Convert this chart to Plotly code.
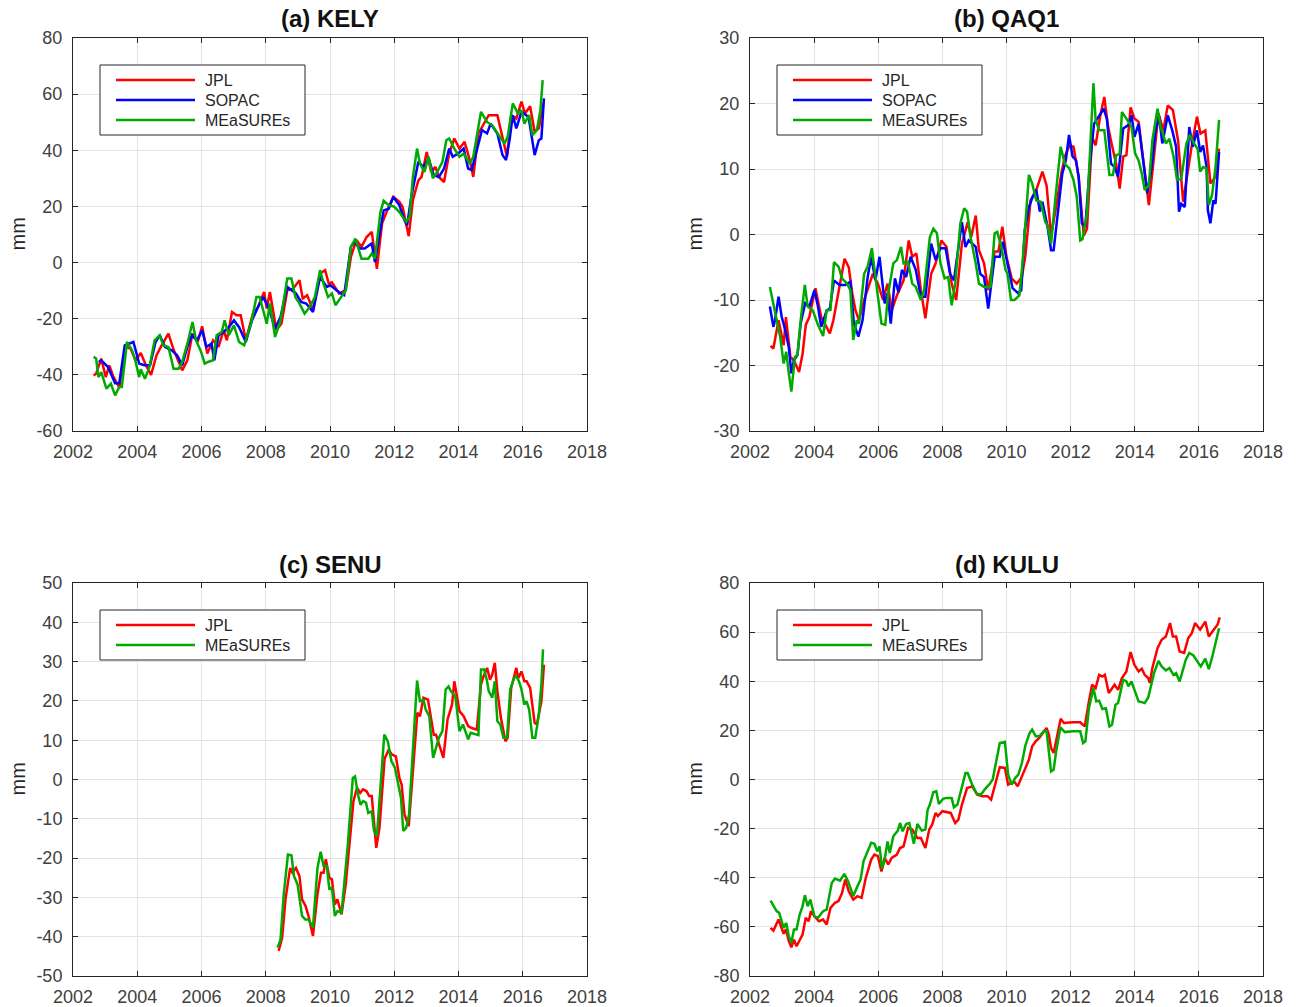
import plotly.graph_objects as go

# ---------------- data (decimal year, mm) ----------------
KELY_JPL = [(2002.64,-40.2),(2002.72,-39.6),(2002.88,-34.2),(2003.02,-40.8),(2003.13,-36.6),(2003.25,-40.5),(2003.44,-44.5),(2003.63,-30),(2003.79,-30.6),(2003.95,-34.8),(2004.11,-32.2),(2004.27,-36.6),(2004.43,-40),(2004.60,-33),(2004.76,-29.5),(2004.97,-25.3),(2005.13,-31),(2005.40,-38.4),(2005.56,-34.8),(2005.72,-25.3),(2005.88,-28.3),(2006.02,-22.7),(2006.18,-32.4),(2006.36,-27.7),(2006.53,-30),(2006.69,-24.1),(2006.79,-27.7),(2006.95,-17.6),(2007.09,-18.8),(2007.22,-18.8),(2007.38,-27.7),(2007.60,-18.2),(2007.76,-15.8),(2007.95,-10.5),(2008.03,-16.4),(2008.13,-10.5),(2008.33,-24.1),(2008.49,-21.7),(2008.67,-9.9),(2008.85,-9.3),(2009.05,-6.3),(2009.15,-12.8),(2009.29,-11.6),(2009.47,-17),(2009.69,-3.9),(2009.85,-2.7),(2009.96,-7.5),(2010.06,-7),(2010.28,-11),(2010.49,-9.9),(2010.65,2),(2010.82,8),(2010.98,5.6),(2011.14,9.1),(2011.30,10.9),(2011.46,-2.2),(2011.62,13.9),(2011.78,18.6),(2011.97,23.4),(2012.16,21.6),(2012.26,19.8),(2012.45,9.4),(2012.58,22.2),(2012.75,29.3),(2012.85,30.5),(2013.01,39.4),(2013.15,32.3),(2013.28,34.1),(2013.39,30.5),(2013.55,28.7),(2013.71,38.8),(2013.87,44.2),(2014.03,40.6),(2014.19,43),(2014.35,36.5),(2014.46,30.5),(2014.62,46),(2014.78,49.5),(2014.94,52.5),(2015.21,52.5),(2015.37,44.8),(2015.51,37.7),(2015.64,52.5),(2015.80,51.3),(2015.96,57.3),(2016.07,53.1),(2016.23,55.7),(2016.37,46.6),(2016.50,47.8),(2016.64,56.7)]

KELY_SOPAC = [(2002.80,-35.4),(2002.88,-34.8),(2003.09,-37.2),(2003.31,-43),(2003.44,-43),(2003.61,-29.5),(2003.88,-28.3),(2004.06,-36),(2004.22,-36.6),(2004.40,-36.6),(2004.57,-28.3),(2004.70,-25.9),(2004.86,-30),(2005.08,-31.3),(2005.24,-33),(2005.40,-36.6),(2005.56,-30),(2005.70,-25.9),(2005.86,-27.7),(2006.02,-24.1),(2006.15,-30),(2006.31,-28.9),(2006.40,-34.8),(2006.53,-25.9),(2006.69,-24.7),(2006.85,-23),(2007.01,-20.6),(2007.17,-23),(2007.38,-28.3),(2007.57,-20.6),(2007.76,-15.8),(2007.92,-12.3),(2008.08,-15.8),(2008.29,-23.5),(2008.46,-19.4),(2008.67,-8.7),(2008.94,-11),(2009.10,-14),(2009.26,-14.6),(2009.47,-17.6),(2009.69,-5.1),(2009.90,-8.7),(2010.01,-8.1),(2010.33,-11),(2010.44,-11.6),(2010.65,5.6),(2010.76,7.4),(2010.92,5),(2011.08,5),(2011.30,6.8),(2011.40,0.2),(2011.67,18.6),(2011.83,19.2),(2011.97,23.4),(2012.16,20.4),(2012.32,15),(2012.40,13.3),(2012.53,23.4),(2012.75,35.9),(2012.91,34.1),(2013.07,37.1),(2013.23,31.1),(2013.39,30.5),(2013.55,33.5),(2013.71,40.6),(2013.82,37.7),(2013.98,38.8),(2014.16,40.6),(2014.30,33.5),(2014.41,33),(2014.57,40),(2014.73,47.2),(2014.89,46),(2015.00,49.5),(2015.21,46),(2015.37,38.3),(2015.48,36.5),(2015.59,43.6),(2015.69,52.5),(2015.80,47.8),(2015.96,53.7),(2016.18,51.9),(2016.37,38.3),(2016.50,43.6),(2016.58,44.2),(2016.66,58.5)]

KELY_MEAS = [(2002.64,-33.6),(2002.72,-34.2),(2002.79,-40.8),(2002.88,-39),(2003.04,-44.9),(2003.18,-43.1),(2003.31,-47.3),(2003.44,-44.3),(2003.52,-44.3),(2003.68,-28.3),(2003.84,-31.3),(2003.95,-35.4),(2004.06,-40.8),(2004.11,-38),(2004.24,-41.4),(2004.38,-37.2),(2004.54,-27.7),(2004.70,-25.9),(2004.81,-29.5),(2004.97,-30.1),(2005.13,-37.8),(2005.29,-37.8),(2005.40,-35.4),(2005.56,-28.9),(2005.72,-21.2),(2005.83,-27.7),(2005.99,-31.9),(2006.10,-36),(2006.20,-35.4),(2006.36,-34.8),(2006.47,-25.9),(2006.63,-24.7),(2006.72,-20.6),(2006.85,-25.9),(2007.01,-22.4),(2007.17,-28.3),(2007.33,-29.5),(2007.54,-21.8),(2007.71,-12.3),(2007.81,-12.3),(2007.92,-17),(2008.03,-21.8),(2008.13,-14.6),(2008.29,-26.5),(2008.46,-20.6),(2008.67,-5.7),(2008.80,-5.7),(2008.92,-12.3),(2009.05,-14.6),(2009.21,-18.2),(2009.37,-15.8),(2009.53,-12.3),(2009.69,-2.7),(2009.80,-7.5),(2009.94,-12.3),(2010.06,-11),(2010.17,-15.2),(2010.33,-12.3),(2010.49,-9.9),(2010.65,5.6),(2010.79,8.5),(2010.98,1.4),(2011.19,1.4),(2011.30,3.2),(2011.40,1.4),(2011.57,18),(2011.67,22),(2011.83,20.4),(2011.99,20),(2012.16,18),(2012.37,14.5),(2012.48,16.3),(2012.58,30.5),(2012.71,40.6),(2012.80,35.3),(2012.94,32.3),(2013.07,37.7),(2013.20,30),(2013.34,32.3),(2013.50,35.9),(2013.62,43.6),(2013.71,44.2),(2013.87,40.6),(2014.03,37.7),(2014.16,38.8),(2014.35,35.3),(2014.46,37.7),(2014.70,53.7),(2014.89,50.1),(2015.05,48.9),(2015.21,46),(2015.43,42.4),(2015.53,44.8),(2015.69,56.7),(2015.85,53.1),(2015.96,54.3),(2016.05,49.5),(2016.20,52.5),(2016.30,45.4),(2016.44,47.2),(2016.55,54.3),(2016.62,65)]

QAQ1_JPL = [(2002.64,-17.0),(2002.73,-17.4),(2002.89,-13.1),(2003.05,-16.9),(2003.12,-12.6),(2003.26,-18.7),(2003.37,-19.2),(2003.53,-21),(2003.64,-18.2),(2003.74,-13.8),(2003.85,-12.6),(2004.04,-8.2),(2004.22,-12.6),(2004.49,-15.1),(2004.60,-13.1),(2004.76,-9),(2004.95,-3.7),(2005.08,-5),(2005.19,-9),(2005.29,-11.6),(2005.40,-13.1),(2005.56,-10),(2005.72,-7.5),(2005.83,-6),(2005.99,-7.5),(2006.15,-10),(2006.29,-7.5),(2006.42,-11.6),(2006.58,-9.3),(2006.79,-7),(2006.95,-0.9),(2007.06,-3.4),(2007.19,-2.9),(2007.33,-8.5),(2007.47,-12.8),(2007.65,-6),(2007.79,-4.4),(2007.97,-0.9),(2008.13,-1.9),(2008.29,-7.5),(2008.43,-10),(2008.61,-1.4),(2008.79,1.9),(2008.90,-0.4),(2009.04,2.9),(2009.14,-2.4),(2009.30,-4.4),(2009.43,-8.5),(2009.63,-2.6),(2009.75,-2.6),(2009.87,1.2),(2010.00,-3.4),(2010.16,-6.7),(2010.32,-7.5),(2010.48,-6.5),(2010.59,-3.2),(2010.75,5.2),(2010.93,6.8),(2011.12,9.6),(2011.25,7.5),(2011.39,-0.1),(2011.53,3.7),(2011.71,9.3),(2011.82,11.9),(2011.96,13.6),(2012.09,13.4),(2012.25,8.8),(2012.41,-0.2),(2012.51,0.9),(2012.67,14.9),(2012.78,13.6),(2012.92,18),(2013.05,21),(2013.16,16.7),(2013.29,13.6),(2013.42,10.8),(2013.53,7),(2013.64,11.9),(2013.74,12.1),(2013.87,19.4),(2013.99,17.7),(2014.12,17.2),(2014.28,10.8),(2014.44,4.5),(2014.60,11.9),(2014.74,18.5),(2014.89,15.9),(2015.03,19.7),(2015.19,19),(2015.35,14.4),(2015.51,5),(2015.61,8.3),(2015.78,13.6),(2015.94,18),(2016.05,15.4),(2016.20,15.9),(2016.36,7.8),(2016.52,8.8),(2016.63,13.1)]

QAQ1_SOPAC = [(2002.62,-11),(2002.73,-14.1),(2002.78,-13.1),(2002.89,-9.5),(2002.99,-12.6),(2003.10,-14.6),(2003.21,-17.2),(2003.29,-21.2),(2003.37,-19.2),(2003.48,-18.4),(2003.58,-13.6),(2003.72,-10.5),(2003.85,-11),(2004.01,-8.5),(2004.12,-11),(2004.22,-14.1),(2004.39,-11.6),(2004.49,-11.3),(2004.62,-7),(2004.79,-7.7),(2004.97,-7.7),(2005.13,-7.2),(2005.24,-13.6),(2005.38,-15.6),(2005.51,-13.1),(2005.67,-6.5),(2005.78,-3.4),(2005.91,-7),(2006.04,-3.4),(2006.20,-10.5),(2006.29,-9),(2006.39,-13.6),(2006.52,-6.7),(2006.63,-8.8),(2006.74,-5.4),(2006.87,-6.5),(2007.01,-3.4),(2007.17,-5.4),(2007.33,-9.5),(2007.47,-9.5),(2007.65,-1.4),(2007.79,-3.9),(2007.94,-2.1),(2008.10,-2.1),(2008.24,-6),(2008.36,-7),(2008.61,1.9),(2008.72,-1.9),(2008.82,-0.9),(2009.04,-1.9),(2009.18,-6),(2009.30,-6.5),(2009.43,-11.3),(2009.63,-3.4),(2009.79,-3.4),(2009.89,-1.1),(2010.03,-4.4),(2010.19,-8.2),(2010.37,-9),(2010.46,-8.5),(2010.57,0.7),(2010.70,4.2),(2010.82,5.8),(2010.93,6.8),(2011.04,3.5),(2011.12,5),(2011.28,1.2),(2011.39,-2.4),(2011.47,-2.4),(2011.60,3.7),(2011.74,9.3),(2011.85,11.3),(2011.95,15.2),(2012.06,11.9),(2012.17,11.3),(2012.25,8.8),(2012.35,1.7),(2012.46,1.2),(2012.60,10.8),(2012.73,16.9),(2012.89,18.2),(2013.03,19.2),(2013.13,17.7),(2013.26,10.8),(2013.37,10.3),(2013.48,8.8),(2013.64,16.2),(2013.80,16.7),(2013.90,18.2),(2013.99,14.9),(2014.12,16.9),(2014.28,10.8),(2014.39,6.3),(2014.52,10),(2014.65,15.9),(2014.76,18),(2014.86,13.9),(2015.03,18.2),(2015.17,15.9),(2015.29,13.4),(2015.38,3.5),(2015.45,4.7),(2015.56,4.2),(2015.70,16.4),(2015.81,13.4),(2015.94,15.9),(2016.04,12.6),(2016.13,13.6),(2016.24,10.3),(2016.28,3.7),(2016.36,1.7),(2016.45,5.2),(2016.52,4.7),(2016.63,12.6)]

QAQ1_MEAS = [(2002.62,-8),(2002.73,-10.5),(2002.83,-12.6),(2002.94,-15.6),(2003.05,-19.7),(2003.13,-17.9),(2003.21,-21.2),(2003.29,-24),(2003.40,-18.7),(2003.48,-18.4),(2003.58,-13.1),(2003.71,-7.7),(2003.80,-11),(2003.96,-11.6),(2004.12,-13.8),(2004.28,-15.5),(2004.39,-11.6),(2004.51,-11.5),(2004.62,-4.2),(2004.76,-4.9),(2004.87,-6.7),(2005.03,-7.5),(2005.13,-8.5),(2005.22,-16.1),(2005.33,-13.1),(2005.40,-13.6),(2005.56,-6),(2005.67,-4.9),(2005.80,-2.1),(2005.94,-8),(2005.99,-9.5),(2006.10,-13.6),(2006.22,-13.8),(2006.31,-9),(2006.47,-4.4),(2006.58,-3.9),(2006.71,-1.9),(2006.79,-4.4),(2006.93,-4.2),(2007.06,-7.5),(2007.17,-8),(2007.33,-10),(2007.43,-8.5),(2007.61,-0.4),(2007.72,0.9),(2007.83,0.2),(2007.94,-4.4),(2008.07,-6.7),(2008.18,-6.5),(2008.29,-10.8),(2008.40,-7.5),(2008.56,1.7),(2008.68,4),(2008.77,3.5),(2008.88,-0.4),(2009.04,-4.4),(2009.14,-7.5),(2009.30,-8),(2009.41,-8),(2009.50,-8),(2009.63,0.2),(2009.71,0.4),(2009.84,-1.9),(2009.97,-5.4),(2010.03,-6),(2010.14,-10),(2010.25,-10),(2010.40,-9.3),(2010.50,-4.4),(2010.59,2.4),(2010.70,9.1),(2010.80,7.8),(2010.93,5.2),(2011.07,5),(2011.21,1.9),(2011.28,1.4),(2011.39,-1.4),(2011.53,5.8),(2011.69,13.4),(2011.82,10.8),(2011.96,10.1),(2012.09,8.3),(2012.19,5.8),(2012.30,-0.9),(2012.37,-0.7),(2012.51,3.2),(2012.62,14.4),(2012.71,23.1),(2012.78,17.5),(2012.89,15.9),(2013.05,15.9),(2013.21,9.1),(2013.32,9.1),(2013.42,12.1),(2013.53,12.3),(2013.60,18.7),(2013.74,17.7),(2013.90,16.4),(2014.01,12.4),(2014.12,11.3),(2014.22,9.3),(2014.31,6.8),(2014.44,7.5),(2014.55,14.4),(2014.71,19.2),(2014.81,16.4),(2014.97,13.9),(2015.08,14.6),(2015.21,11.9),(2015.32,8.3),(2015.45,8.5),(2015.61,13.9),(2015.72,15.2),(2015.85,13.9),(2015.96,13.1),(2016.04,9.6),(2016.13,10.3),(2016.24,10.1),(2016.31,4.5),(2016.41,6),(2016.52,10.3),(2016.63,17.5)]

SENU_JPL = [(2008.40,-43.6),(2008.51,-40.3),(2008.62,-30.1),(2008.76,-22.5),(2008.83,-23.7),(2008.94,-22.5),(2009.05,-24.6),(2009.13,-30.5),(2009.24,-32.2),(2009.33,-34.7),(2009.47,-39.8),(2009.61,-29.2),(2009.72,-23.7),(2009.80,-23.7),(2009.87,-20.3),(2009.98,-25),(2010.06,-25.4),(2010.15,-31.8),(2010.23,-30.5),(2010.36,-34.3),(2010.49,-26.7),(2010.60,-17.4),(2010.73,-5.5),(2010.84,-2.1),(2010.94,-3.4),(2011.03,-2.5),(2011.14,-3),(2011.22,-4.2),(2011.30,-4.2),(2011.44,-17.4),(2011.54,-12.3),(2011.70,5.3),(2011.83,7.6),(2011.92,6.4),(2012.05,5.9),(2012.16,0.4),(2012.23,-1.3),(2012.32,-8.9),(2012.45,-11.9),(2012.58,2),(2012.72,17),(2012.80,16.1),(2012.91,20.8),(2013.05,20.3),(2013.15,15.3),(2013.23,11.4),(2013.30,11.4),(2013.39,8.9),(2013.53,5.5),(2013.66,15.3),(2013.80,19.1),(2013.87,25),(2013.95,21.2),(2014.03,17.4),(2014.16,16.1),(2014.30,13.6),(2014.41,13.1),(2014.57,12.7),(2014.70,24.2),(2014.78,26.3),(2014.89,28.4),(2014.98,25.4),(2015.05,26.7),(2015.13,29.7),(2015.21,22.5),(2015.32,15.7),(2015.46,9.7),(2015.53,10.6),(2015.64,23.3),(2015.73,25.8),(2015.80,28.4),(2015.86,25.8),(2015.96,27.5),(2016.05,25),(2016.12,25),(2016.23,23.3),(2016.37,14.4),(2016.44,14),(2016.58,19.9),(2016.66,29.2)]

SENU_MEAS = [(2008.37,-42.8),(2008.46,-40.7),(2008.56,-29.2),(2008.69,-19.1),(2008.80,-19.3),(2008.88,-24.6),(2008.99,-26.7),(2009.13,-34.7),(2009.23,-35.6),(2009.33,-35.6),(2009.47,-37.7),(2009.61,-22.5),(2009.71,-18.4),(2009.80,-22),(2009.90,-22),(2009.98,-28),(2010.06,-27.5),(2010.15,-34.7),(2010.23,-33.5),(2010.36,-33.9),(2010.55,-17),(2010.71,0.4),(2010.78,0.8),(2010.87,-3.8),(2010.95,-6.4),(2011.03,-5.5),(2011.12,-5.9),(2011.19,-8.5),(2011.30,-8.1),(2011.37,-13.1),(2011.46,-14.4),(2011.57,-2.1),(2011.69,11.4),(2011.80,9.7),(2011.91,4.7),(2012.02,3),(2012.10,-0.4),(2012.21,-4.7),(2012.28,-13.1),(2012.37,-12.3),(2012.46,-8.9),(2012.58,7.2),(2012.71,25.2),(2012.80,19.9),(2012.91,20.3),(2012.98,17.8),(2013.09,16.1),(2013.21,5.5),(2013.28,7.6),(2013.39,10.6),(2013.50,12.3),(2013.60,22.9),(2013.69,23.7),(2013.76,22.5),(2013.90,21.2),(2014.03,12.3),(2014.14,14),(2014.30,10.2),(2014.38,11.9),(2014.62,11.3),(2014.70,28),(2014.80,28),(2014.89,25),(2014.94,22.5),(2015.05,20.8),(2015.13,25),(2015.21,14.8),(2015.30,14),(2015.40,10.6),(2015.51,10.6),(2015.61,22.9),(2015.73,25.8),(2015.80,26.3),(2015.88,25),(2015.96,22.9),(2016.05,19.1),(2016.12,19.9),(2016.20,17.8),(2016.30,10.6),(2016.39,10.6),(2016.50,16.5),(2016.58,24.2),(2016.63,33.1)]

KULU_JPL = [(2002.64,-60.4),(2002.73,-61.5),(2002.89,-57),(2003.05,-62.8),(2003.12,-61),(2003.21,-65.8),(2003.29,-68.3),(2003.37,-65.2),(2003.45,-67.9),(2003.64,-63.1),(2003.74,-56.3),(2003.83,-57.7),(2003.90,-53.6),(2004.01,-55.7),(2004.15,-57.7),(2004.28,-57),(2004.39,-59),(2004.51,-52.3),(2004.65,-50.2),(2004.76,-49.5),(2004.87,-46.2),(2004.97,-40.7),(2005.08,-45.5),(2005.22,-48.9),(2005.35,-47.5),(2005.48,-48.2),(2005.61,-40.1),(2005.78,-32.6),(2005.88,-30.6),(2005.99,-31.2),(2006.10,-37.4),(2006.20,-31.9),(2006.31,-34.6),(2006.42,-31.9),(2006.58,-30.6),(2006.68,-27.9),(2006.79,-27.2),(2006.93,-19.7),(2007.06,-20.4),(2007.22,-23.8),(2007.33,-23.8),(2007.47,-27.9),(2007.59,-20.4),(2007.68,-18.4),(2007.79,-13.6),(2007.86,-14.9),(2008.00,-12.9),(2008.13,-13.2),(2008.26,-13.6),(2008.40,-17.7),(2008.50,-16.3),(2008.61,-10.2),(2008.77,-3.5),(2008.93,-2.8),(2009.09,-6.2),(2009.25,-6.8),(2009.41,-6.8),(2009.52,-8.2),(2009.65,-1.4),(2009.79,5),(2009.95,4.7),(2010.05,-2.1),(2010.16,-1.4),(2010.25,-1),(2010.35,-2.8),(2010.46,0.6),(2010.59,4.7),(2010.70,8.1),(2010.80,13.5),(2010.91,15.5),(2011.02,16.9),(2011.12,18.9),(2011.25,21),(2011.32,18.3),(2011.39,12.8),(2011.47,10.8),(2011.55,15.5),(2011.69,24.7),(2011.79,23),(2011.93,23.3),(2012.06,23.3),(2012.30,23.3),(2012.44,21.6),(2012.57,31.8),(2012.67,38.6),(2012.78,37.2),(2012.89,42.6),(2012.99,41.9),(2013.07,42.6),(2013.19,35.2),(2013.37,38.6),(2013.48,36.5),(2013.60,41.3),(2013.74,44),(2013.87,51.9),(2013.99,46.7),(2014.12,44),(2014.22,45.1),(2014.31,42.6),(2014.42,41.3),(2014.47,39.3),(2014.55,45.4),(2014.71,53.5),(2014.84,56.9),(2014.97,58.2),(2015.10,63.7),(2015.19,58.2),(2015.29,58.2),(2015.40,52.1),(2015.54,51.5),(2015.67,57.6),(2015.78,59.6),(2015.88,63.7),(2016.04,61),(2016.20,64.3),(2016.31,58.2),(2016.47,61),(2016.58,63),(2016.65,66)]

KULU_MEAS = [(2002.64,-49.3),(2002.73,-51.6),(2002.83,-53.6),(2002.91,-54.3),(2003.05,-60.4),(2003.13,-58.4),(2003.21,-63.7),(2003.29,-66.5),(2003.37,-61.1),(2003.45,-61.1),(2003.55,-55),(2003.64,-51.6),(2003.71,-47.1),(2003.80,-51.6),(2003.88,-48.9),(2004.01,-55.7),(2004.12,-56.3),(2004.28,-53.6),(2004.39,-53),(2004.55,-42.1),(2004.65,-40.3),(2004.81,-41.2),(2004.94,-38.4),(2005.06,-41.4),(2005.22,-47.5),(2005.35,-43.5),(2005.45,-40.7),(2005.54,-33.3),(2005.67,-29.2),(2005.78,-25.8),(2005.88,-26.2),(2005.97,-29.2),(2006.04,-27.2),(2006.12,-36.3),(2006.20,-32.6),(2006.29,-25.2),(2006.36,-29.9),(2006.47,-23.1),(2006.61,-20.8),(2006.68,-17.7),(2006.76,-21.1),(2006.87,-18.1),(2006.97,-17.7),(2007.11,-26.2),(2007.22,-18.1),(2007.36,-20.8),(2007.47,-20.4),(2007.54,-12.3),(2007.61,-10.2),(2007.72,-5.1),(2007.81,-4.8),(2007.89,-10),(2008.02,-7.9),(2008.13,-7.5),(2008.29,-7.5),(2008.36,-11.3),(2008.47,-10.2),(2008.61,-2.8),(2008.72,2.6),(2008.79,2.6),(2008.93,-2.1),(2009.07,-5.8),(2009.20,-6.2),(2009.33,-3.9),(2009.47,-1.9),(2009.57,0),(2009.71,8.7),(2009.79,14.8),(2009.95,15.3),(2010.05,2),(2010.16,-2.1),(2010.27,0.6),(2010.37,2),(2010.48,6.7),(2010.59,13.9),(2010.72,18.9),(2010.80,20.3),(2010.91,17.6),(2011.02,17.6),(2011.18,19.9),(2011.25,19.6),(2011.39,3.3),(2011.47,4),(2011.55,11.5),(2011.68,21.2),(2011.82,19.3),(2012.06,19.6),(2012.30,19.6),(2012.39,14.8),(2012.46,15.5),(2012.57,29),(2012.71,37.2),(2012.80,31.8),(2012.89,32.1),(2012.99,28.7),(2013.10,29),(2013.21,21.6),(2013.29,22.3),(2013.40,30.4),(2013.48,31.1),(2013.64,40.6),(2013.74,39.9),(2013.80,37.9),(2013.90,39.9),(2013.99,36.5),(2014.12,31.8),(2014.22,31.5),(2014.31,31.1),(2014.42,33.4),(2014.49,37.2),(2014.60,43.3),(2014.74,48.3),(2014.84,46),(2014.97,44.4),(2015.08,45.4),(2015.21,42.6),(2015.29,43.3),(2015.40,39.9),(2015.49,44),(2015.59,48.7),(2015.70,51.5),(2015.83,50.5),(2015.94,48.3),(2016.06,46),(2016.20,49.2),(2016.31,44.9),(2016.42,50.1),(2016.52,56.2),(2016.63,61.6)]

X_TICKS = [2002, 2004, 2006, 2008, 2010, 2012, 2014, 2016, 2018]
TITLES = ["(a) KELY", "(b) QAQ1", "(c) SENU", "(d) KULU"]
Y_TICKS = [
    [-60, -40, -20, 0, 20, 40, 60, 80],
    [-30, -20, -10, 0, 10, 20, 30],
    [-50, -40, -30, -20, -10, 0, 10, 20, 30, 40, 50],
    [-80, -60, -40, -20, 0, 20, 40, 60, 80],
]
SERIES = [
    [("JPL", KELY_JPL), ("SOPAC", KELY_SOPAC), ("MEaSUREs", KELY_MEAS)],
    [("JPL", QAQ1_JPL), ("SOPAC", QAQ1_SOPAC), ("MEaSUREs", QAQ1_MEAS)],
    [("JPL", SENU_JPL), ("MEaSUREs", SENU_MEAS)],
    [("JPL", KULU_JPL), ("MEaSUREs", KULU_MEAS)],
]

# ---------------- styling ----------------
W, H = 1298, 1007
FONT = "Liberation Sans, Arial, Helvetica, sans-serif"
COLORS = {"JPL": "#ff0000", "SOPAC": "#0000ff", "MEaSUREs": "#00aa00"}
AXC = "#262626"
GRIDC = "#e3e3e3"
LW = 2.5

# panel boxes in pixels: (left, right, top, bottom)
BOXES = [(73, 587, 38, 431), (750, 1263, 38, 431), (73, 587, 583, 976), (750, 1263, 583, 976)]


def px(x):
    return x / W


def py(y):
    return 1 - y / H


fig = go.Figure()
shapes, annotations = [], []
layout = dict(
    width=W, height=H, margin=dict(l=0, r=0, t=0, b=0, autoexpand=False),
    paper_bgcolor="white", plot_bgcolor="white",
    font=dict(family=FONT, color=AXC, size=18),
    showlegend=False,
)

for i in range(4):
    l, r, t, b = BOXES[i]
    ax = "" if i == 0 else str(i + 1)
    for name, pts in SERIES[i]:
        fig.add_trace(go.Scatter(
            x=[p[0] for p in pts], y=[p[1] for p in pts], mode="lines", name=name,
            line=dict(color=COLORS[name], width=LW),
            xaxis="x" + ax, yaxis="y" + ax, showlegend=False,
        ))
    common = dict(showline=True, linecolor=AXC, linewidth=1, mirror="allticks",
                  ticks="inside", ticklen=5, tickcolor=AXC, tickwidth=1,
                  showgrid=True, gridcolor=GRIDC, gridwidth=1, zeroline=False,
                  automargin=False,
                  tickfont=dict(family=FONT, size=18, color="#404040"))
    layout["xaxis" + ax] = dict(common, domain=[px(l), px(r)], range=[2002, 2018],
                                tickvals=X_TICKS, ticktext=[str(v) for v in X_TICKS],
                                ticklabelstandoff=4, anchor="y" + ax)
    yt = Y_TICKS[i]
    layout["yaxis" + ax] = dict(common, domain=[py(b), py(t)], range=[yt[0], yt[-1]],
                                tickvals=yt, ticktext=[str(v) for v in yt],
                                ticklabelstandoff=6, anchor="x" + ax)

    # legend box (MATLAB style: long line samples, 20 px rows)
    n = len(SERIES[i])
    bx0, bx1 = l + 27, l + 232
    by0 = t + 27
    by1 = by0 + 30 + 20 * (n - 1)
    shapes.append(dict(type="rect", xref="paper", yref="paper",
                       x0=px(bx0), x1=px(bx1), y0=py(by0), y1=py(by1),
                       line=dict(color=AXC, width=1), fillcolor="white", layer="above"))
    for k, (name, _) in enumerate(SERIES[i]):
        yy = by0 + 15 + 20 * k
        shapes.append(dict(type="line", xref="paper", yref="paper",
                           x0=px(l + 43), x1=px(l + 122), y0=py(yy), y1=py(yy),
                           line=dict(color=COLORS[name], width=LW), layer="above"))
        annotations.append(dict(text=name, x=px(l + 130), y=py(yy), xref="paper", yref="paper",
                                xanchor="left", yanchor="middle", showarrow=False,
                                font=dict(family=FONT, size=16, color=AXC)))

    annotations.append(dict(
        text="<b>%s</b>" % TITLES[i], x=px((l + r) / 2), y=py(t - 19),
        xref="paper", yref="paper", xanchor="center", yanchor="middle", showarrow=False,
        font=dict(family=FONT, size=24, color="#111111")))
    annotations.append(dict(
        text="mm", x=px(l - 56), y=py((t + b) / 2), textangle=-90,
        xref="paper", yref="paper", xanchor="center", yanchor="middle", showarrow=False,
        font=dict(family=FONT, size=20, color=AXC)))

layout["shapes"] = shapes
layout["annotations"] = annotations
fig.update_layout(**layout)
fig.write_html("out.html")
